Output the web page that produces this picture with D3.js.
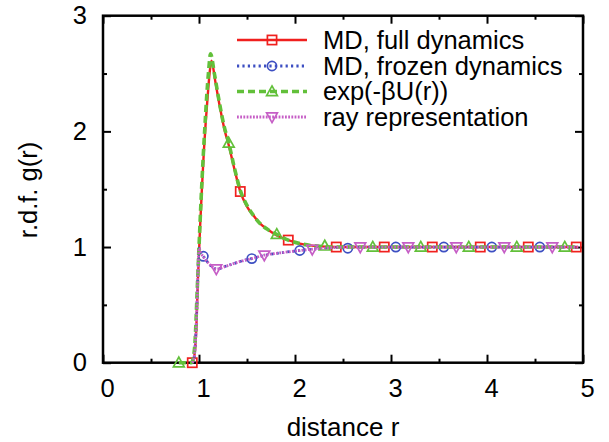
<!DOCTYPE html>
<html>
<head>
<meta charset="utf-8">
<script src="https://cdn.jsdelivr.net/npm/d3@7"></script>
<style>
  body { margin: 0; background: #fff; }
  text { font-family: "Liberation Sans", Arial, Helvetica, sans-serif; }
</style>
</head>
<body>
<div id="chart"></div>
<script>
// curve samples
var fullR = [0.93, 0.95, 0.97, 0.99, 1.01, 1.03, 1.05, 1.07, 1.09, 1.11, 1.13, 1.17, 1.22, 1.27, 1.31, 1.37, 1.43, 1.5, 1.57, 1.64, 1.72, 1.81, 1.93, 2.05, 2.2, 2.43, 2.8, 3.5, 4.2, 4.95];
var fullG = [0, 0.05, 0.26, 0.75, 1.15, 1.5, 1.82, 2.08, 2.3, 2.5, 2.61, 2.43, 2.2, 2.0, 1.88, 1.67, 1.48, 1.35, 1.27, 1.2, 1.15, 1.1, 1.06, 1.03, 1.01, 1.0, 1.0, 1.0, 1.0, 1.0];

var expR = [0.79, 0.92, 0.94, 0.96, 0.98, 1.0, 1.02, 1.04, 1.06, 1.08, 1.1, 1.12, 1.16, 1.21, 1.26, 1.31, 1.37, 1.43, 1.5, 1.57, 1.64, 1.72, 1.81, 1.93, 2.05, 2.2, 2.43, 2.8, 3.5, 4.2, 4.95];
var expG = [0, 0, 0.04, 0.2, 0.6, 1.0, 1.38, 1.72, 2.02, 2.3, 2.52, 2.67, 2.5, 2.26, 2.05, 1.9, 1.68, 1.49, 1.36, 1.27, 1.2, 1.15, 1.11, 1.06, 1.03, 1.01, 1.0, 1.0, 1.0, 1.0, 1.0];

var frozenR = [0.93, 0.95, 0.97, 0.99, 1.0, 1.02, 1.045, 1.1, 1.18, 1.3, 1.45, 1.55, 1.7, 1.85, 2.05, 2.3, 2.6, 3.0, 4.0, 4.95];
var frozenG = [0, 0.05, 0.3, 0.8, 0.99, 0.95, 0.92, 0.86, 0.81, 0.84, 0.88, 0.9, 0.93, 0.95, 0.97, 0.99, 1.0, 1.0, 1.0, 1.0];

var rayR = [0.93, 0.95, 0.97, 0.99, 1.0, 1.02, 1.05, 1.1, 1.18, 1.3, 1.45, 1.55, 1.68, 1.85, 2.05, 2.3, 2.6, 3.0, 4.0, 4.95];
var rayG = [0, 0.05, 0.3, 0.8, 0.99, 0.95, 0.91, 0.86, 0.81, 0.84, 0.88, 0.9, 0.93, 0.95, 0.97, 0.99, 1.0, 1.0, 1.0, 1.0];

// marker positions
var fullMR = [0.93, 1.43, 1.93, 2.43, 2.93, 3.43, 3.93, 4.43, 4.93];
var fullMG = [0, 1.48, 1.06, 1.0, 1.0, 1.0, 1.0, 1.0, 1.0];
var frozenMR = [1.045, 1.55, 2.05, 2.55, 3.05, 3.55, 4.05, 4.55];
var frozenMG = [0.92, 0.9, 0.97, 0.99, 1.0, 1.0, 1.0, 1.0];
var expMR = [0.79, 1.31, 1.81, 2.31, 2.81, 3.31, 3.81, 4.31, 4.81];
var expMG = [0, 1.9, 1.11, 1.01, 1.0, 1.0, 1.0, 1.0, 1.0];
var rayMR = [1.18, 1.68, 2.18, 2.68, 3.18, 3.68, 4.18, 4.68];
var rayMG = [0.81, 0.93, 0.98, 1.0, 1.0, 1.0, 1.0, 1.0];

var seriesNames = ["MD, full dynamics", "MD, frozen dynamics", "exp(-\u03b2U(r))", "ray representation"];
var xTicks = [0, 1, 2, 3, 4, 5];
var yTicks = [0, 1, 2, 3];

var W = 609, H = 442;
var margin = {top: 15.7, right: 26, bottom: 79.3, left: 103},
    width = W - margin.left - margin.right,
    height = H - margin.top - margin.bottom;

var x = d3.scaleLinear().domain([0, 5]).range([0, width]);
var y = d3.scaleLinear().domain([0, 3]).range([height, 0]);

var svg = d3.select("#chart").append("svg")
    .attr("width", W)
    .attr("height", H)
  .append("g")
    .attr("transform", "translate(" + margin.left + "," + margin.top + ")");

var fontSize = 25.5;
var fmt = d3.format("d");

// minor ticks (every 0.5), drawn inward on all four sides
var minorX = d3.range(0.5, 5, 1), minorY = d3.range(0.5, 3, 1);
function minor(sel, axis) { sel.call(axis.tickFormat("")).call(function(g) { g.select(".domain").remove(); }); }

svg.append("g").attr("transform", "translate(0," + height + ")")
    .call(minor, d3.axisBottom(x).tickValues(minorX).tickSize(-4));
svg.append("g")
    .call(minor, d3.axisTop(x).tickValues(minorX).tickSize(-4));
svg.append("g")
    .call(minor, d3.axisLeft(y).tickValues(minorY).tickSize(-4));
svg.append("g").attr("transform", "translate(" + width + ",0)")
    .call(minor, d3.axisRight(y).tickValues(minorY).tickSize(-4));

var xAxis = svg.append("g").attr("transform", "translate(0," + height + ")")
    .call(d3.axisBottom(x).tickValues(xTicks).tickFormat(fmt).tickSize(-8).tickPadding(16).tickSizeOuter(0));
svg.append("g")
    .call(d3.axisTop(x).tickValues(xTicks).tickSize(-8).tickFormat("").tickSizeOuter(0));
var yAxis = svg.append("g")
    .call(d3.axisLeft(y).tickValues(yTicks).tickFormat(fmt).tickSize(-8).tickPadding(16).tickSizeOuter(0));
svg.append("g").attr("transform", "translate(" + width + ",0)")
    .call(d3.axisRight(y).tickValues(yTicks).tickSize(-8).tickFormat("").tickSizeOuter(0));

svg.selectAll(".tick line").attr("stroke", "#000").attr("stroke-width", 2);
svg.selectAll(".domain").remove();
xAxis.selectAll("text").attr("font-size", fontSize).attr("fill", "#000").attr("dx", 4)
    .style("font-family", '"Liberation Sans", Arial, sans-serif');
yAxis.selectAll("text").attr("font-size", fontSize).attr("fill", "#000")
    .style("font-family", '"Liberation Sans", Arial, sans-serif');

svg.append("rect")
    .attr("width", width).attr("height", height)
    .attr("fill", "none").attr("stroke", "#000").attr("stroke-width", 2.5);

// axis titles
svg.append("text")
    .attr("x", width / 2).attr("y", height + 73.5)
    .attr("text-anchor", "middle").attr("font-size", 26)
    .text("distance r");
svg.append("text")
    .attr("transform", "translate(" + (28 - margin.left + 9) + "," + (190 - margin.top) + ") rotate(-90)")
    .attr("text-anchor", "middle").attr("font-size", 25.5)
    .text("r.d.f. g(r)");

var colors = ["#f0201e", "#3d4fc2", "#62c03a", "#c65ec6"];
var dashes = [null, "2.2,3.2", "7,4", "1.8,1.4"];
var widths = [2.4, 2.8, 3.6, 2.8];
var shapes = ["square", "circle", "tri", "tridown"];

var lineData = [
  d3.zip(fullR, fullG), d3.zip(frozenR, frozenG), d3.zip(expR, expG), d3.zip(rayR, rayG)
];
var markData = [
  d3.zip(fullMR, fullMG), d3.zip(frozenMR, frozenMG), d3.zip(expMR, expMG), d3.zip(rayMR, rayMG)
];

var line = d3.line()
    .x(function(d) { return x(d[0]); })
    .y(function(d) { return y(d[1]); })
    .curve(d3.curveMonotoneX);

function marker(g, shape, color) {
  var s = 4.6;
  if (shape == "square") {
    g.append("rect").attr("x", -s).attr("y", -s).attr("width", 2 * s).attr("height", 2 * s);
  } else if (shape == "circle") {
    g.append("circle").attr("r", s);
  } else if (shape == "tri") {
    g.append("path").attr("d", "M0," + (-s - 1) + "L" + (s + 0.8) + "," + (s - 0.5) + "L" + (-s - 0.8) + "," + (s - 0.5) + "Z");
  } else {
    g.append("path").attr("d", "M0," + (s + 1) + "L" + (s + 0.8) + "," + (-s + 0.5) + "L" + (-s - 0.8) + "," + (-s + 0.5) + "Z");
  }
  g.selectAll("*").attr("fill", "none").attr("stroke", color).attr("stroke-width", 1.7);
}

lineData.forEach(function(data, i) {
  svg.append("path")
      .datum(data)
      .attr("d", line)
      .attr("fill", "none")
      .attr("stroke", colors[i])
      .attr("stroke-width", widths[i])
      .attr("stroke-dasharray", dashes[i]);
  svg.selectAll(".m" + i)
      .data(markData[i])
      .enter().append("g")
      .attr("class", "m" + i)
      .attr("transform", function(d) { return "translate(" + x(d[0]) + "," + y(d[1]) + ")"; })
      .each(function() { marker(d3.select(this), shapes[i], colors[i]); });
});

// legend
var legendY = [40, 66, 91.5, 117];
var legend = svg.append("g").attr("transform", "translate(" + (-margin.left) + "," + (-margin.top) + ")");
seriesNames.forEach(function(name, i) {
  var row = legend.append("g").attr("transform", "translate(0," + legendY[i] + ")");
  row.append("line")
      .attr("x1", 237).attr("x2", 307)
      .attr("stroke", colors[i])
      .attr("stroke-width", widths[i])
      .attr("stroke-dasharray", dashes[i]);
  marker(row.append("g").attr("transform", "translate(272,0)"), shapes[i], colors[i]);
  row.append("text")
      .attr("x", 323).attr("y", 8.5)
      .attr("font-size", fontSize)
      .text(name);
});
</script>
</body>
</html>
